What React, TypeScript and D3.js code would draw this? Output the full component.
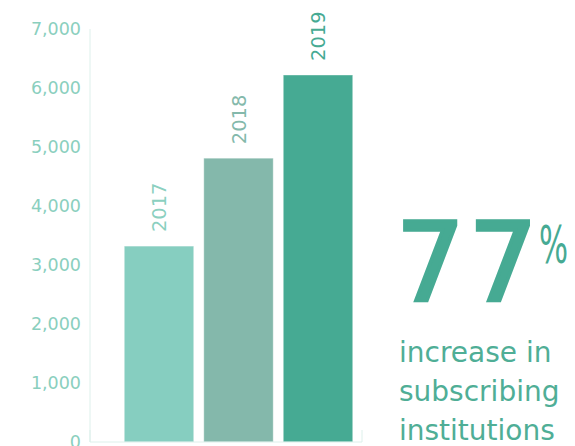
import React from "react";
import * as d3 from "d3";

const years = ["2017", "2018", "2019"];
const values = [3320, 4810, 6220];
const barColors = ["#86CEC0", "#84B8AB", "#46AA93"];
const labelColors = ["#8BD0C0", "#84B9AB", "#46AA93"];
const yTicks = [0, 1000, 2000, 3000, 4000, 5000, 6000, 7000];
const headline = "77";
const headlineUnit = "%";
const captionLines = ["increase in", "subscribing", "institutions"];

const W = 575;
const H = 446;
const FONT = "'DejaVu Sans', sans-serif";

export default function App() {
  const y = d3.scaleLinear().domain([0, 7000]).range([442, 29]);
  const x = d3
    .scaleBand<string>()
    .domain(years)
    .range([119.25, 357.75])
    .paddingInner(0.127)
    .paddingOuter(0.0635);
  const fmt = d3.format(",");
  const axisX0 = 90;
  const axisX1 = 362;

  return (
    <svg
      width={W}
      height={H}
      style={{ position: "absolute", left: 0, top: 0, overflow: "hidden" }}
    >
      <rect x={0} y={0} width={W} height={H} fill="#ffffff" />
      {/* y axis */}
      <line x1={axisX0} x2={axisX0} y1={y(7000)} y2={y(0)} stroke="#DDF0EB" strokeWidth={1} />
      {yTicks.map((t) => (
        <text
          key={t}
          x={axisX0 - 9}
          y={y(t)}
          dy="0.36em"
          textAnchor="end"
          fontFamily={FONT}
          fontWeight={400}
          fontSize={17.5}
          fill="#8ACFBE"
        >
          {fmt(t)}
        </text>
      ))}
      {/* bars */}
      {years.map((yr, i) => (
        <rect
          key={yr}
          x={x(yr)}
          y={y(values[i])}
          width={x.bandwidth()}
          height={y(0) - y(values[i])}
          fill={barColors[i]}
          stroke="#ffffff"
          strokeOpacity={0.35}
          strokeWidth={1}
        />
      ))}
      {/* x axis */}
      <path
        d={`M${axisX0},${y(0) - 12}V${y(0)}H${axisX1}V${y(0) - 12}`}
        fill="none"
        stroke="#DDF0EB"
        strokeWidth={1}
      />
      {/* year labels */}
      {years.map((yr, i) => {
        const cx = (x(yr) as number) + x.bandwidth() / 2;
        const ty = y(values[i]) - 14;
        return (
          <text
            key={yr}
            transform={`translate(${cx},${ty}) rotate(-90)`}
            dy="0.36em"
            textAnchor="start"
            fontFamily={FONT}
            fontWeight={400}
            fontSize={19.5}
            fill={labelColors[i]}
          >
            {yr}
          </text>
        );
      })}
      {/* headline */}
      <text
        x={396}
        y={300}
        fontFamily={FONT}
        fontWeight={400}
        fontSize={108}
        letterSpacing={4}
        fill="#46AA93"
        stroke="#46AA93"
        strokeWidth={3.5}
        strokeLinejoin="miter"
      >
        {headline}
      </text>
      <text
        transform="translate(539,263) scale(0.6,1)"
        fontFamily={FONT}
        fontWeight={400}
        fontSize={51}
        fill="#46AA93"
      >
        {headlineUnit}
      </text>
      {captionLines.map((l, i) => (
        <text
          key={l}
          x={399}
          y={362 + i * 39}
          fontFamily={FONT}
          fontWeight={400}
          fontSize={28}
          fill="#4FAE96"
        >
          {l}
        </text>
      ))}
    </svg>
  );
}
